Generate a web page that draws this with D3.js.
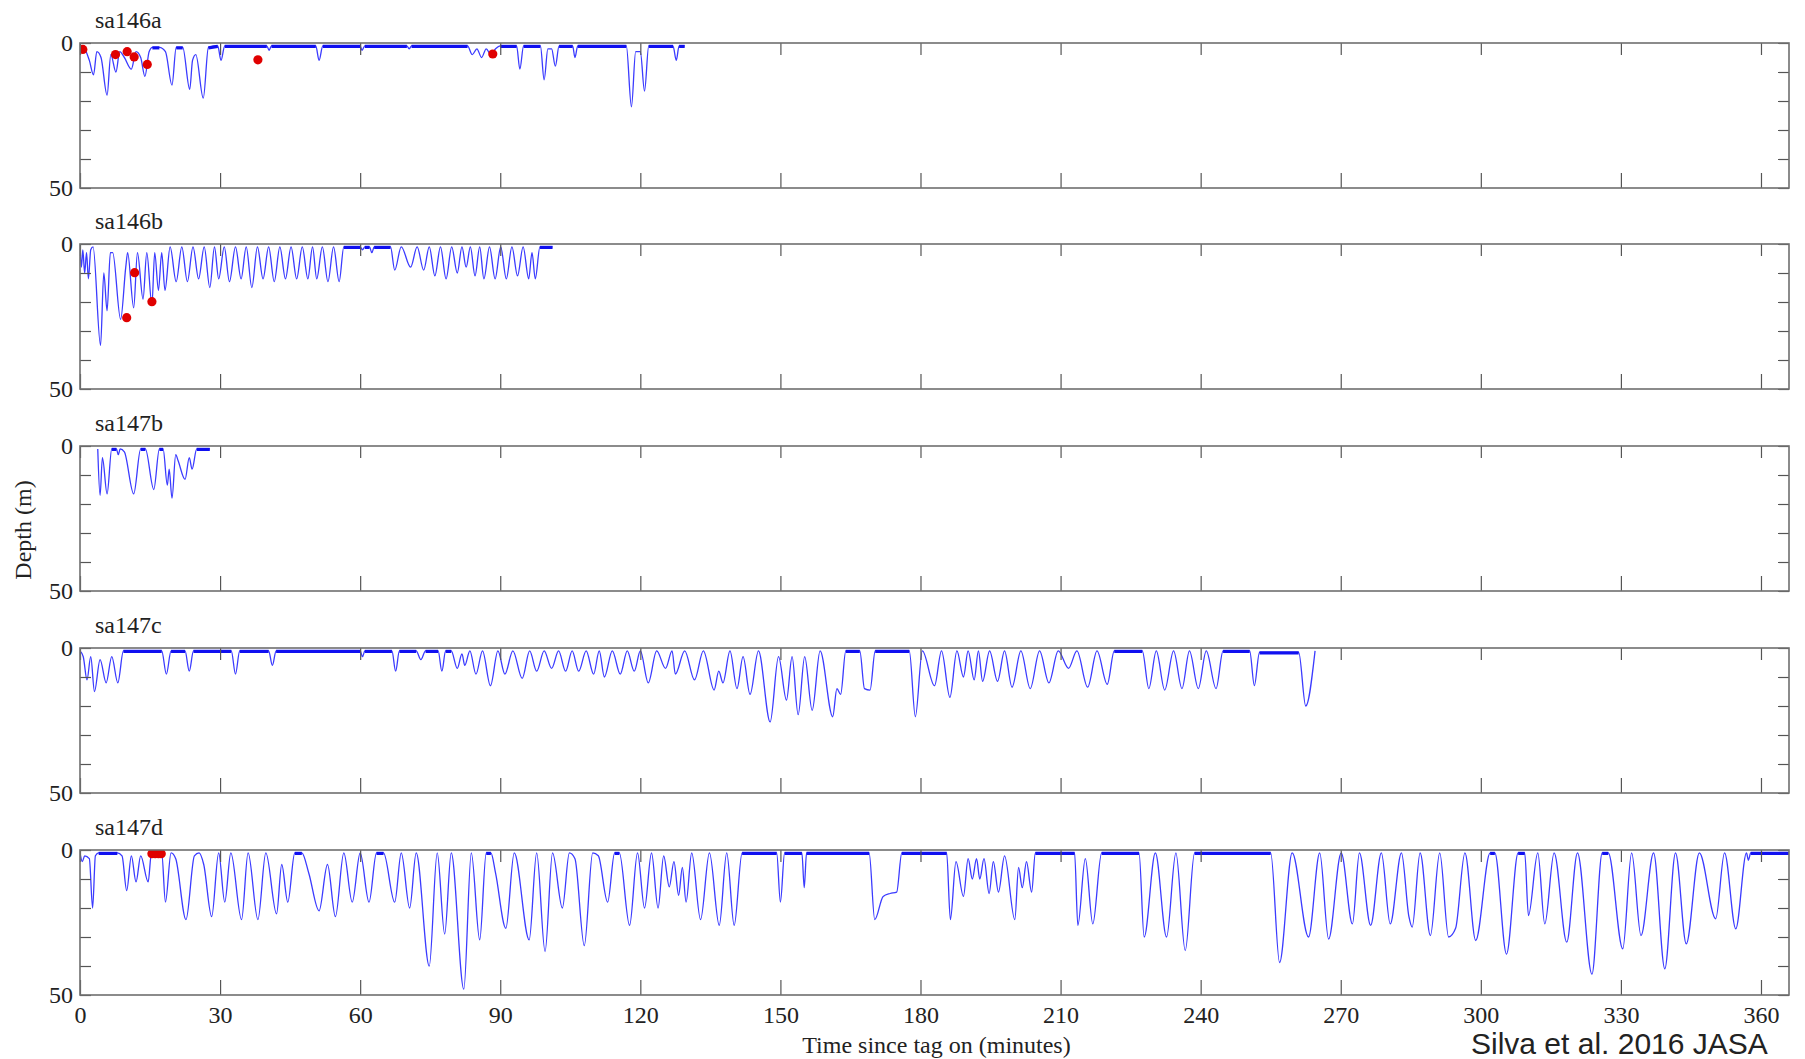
<!DOCTYPE html>
<html>
<head>
<meta charset="utf-8">
<script src="https://cdn.jsdelivr.net/npm/d3@7"></script>
<style>
body{margin:0;background:#fff}
svg{display:block}
text{font-family:"Liberation Serif","Times New Roman",serif;fill:#222}
</style>
</head>
<body>
<svg id="c" width="1805" height="1059"></svg>
<script>
// ---------- DATA ----------
const panelNames = ["sa146a", "sa146b", "sa147b", "sa147c", "sa147d"];
const xTickValues = [0, 30, 60, 90, 120, 150, 180, 210, 240, 270, 300, 330, 360];
const yTickValues = [0, 10, 20, 30, 40, 50];
const yTickLabels = [0, 50];
const xTitle = "Time since tag on (minutes)";
const yTitle = "Depth (m)";
const credit = "Silva et al. 2016 JASA";

// [time (min), depth (m)]
const sa146a = [[0,1],[1,2],[2,6],[2.9,11],[3.6,3],[4.5,5],[5.8,18],[6.6,4],[7.7,10],[8.5,3],[9.5,5],[11,9],[12,3],[13,5],[13.9,11.5],[14.8,3],[15.5,1.5],[17,1.5],[18.3,3],[19.7,14.5],[20.6,1.5],[22,1.5],[23.5,16],[24.1,6],[24.8,4],[26.4,19],[27.5,1.5],[29.5,1],[30.2,6],[31,1],[40,1],[40.5,2.5],[41,1],[50.5,1],[51.2,6],[52,1],[60,1],[60.4,2.5],[61,1],[70,1],[70.5,2],[71,1],[83,1],[84,4],[85,2],[86,5],[87,2],[88,4],[89,2],[90,1],[93.5,1],[94.2,9],[95,1],[98.6,1],[99.4,12.7],[100.2,2],[101,2],[101.8,8],[102.6,1],[105.5,1],[106,5],[106.6,1],[117,1],[118.1,22],[119,3],[120,3],[120.9,16.6],[121.8,1],[127,1],[127.7,6],[128.3,1],[129.5,1]];

const sa146b = [[0,1],[0.3,8],[0.6,2],[1,10],[1.4,3],[1.8,12],[2.3,2],[2.8,1],[4.4,35],[5.1,10],[5.8,23],[6.5,3],[7,3],[8.7,26],[9.8,8],[10.2,3],[11.5,22],[12.3,3],[13.5,19],[14.3,3],[15.4,21],[16,3],[16.8,16],[17.5,3],[18.2,16],[19.3,1],[20.6,13],[21.8,1],[23,13],[24.2,1],[25.4,12],[26.6,1],[27.8,15],[28.8,1],[29.7,12],[30.9,1],[32,13],[33.3,1],[34.5,12],[35.6,1],[36.8,15],[38,1],[39.2,12],[40.4,1],[41.6,13],[42.8,1],[44,12],[45.2,1],[46.4,12],[47.6,1],[48.8,12],[49.8,1],[50.7,12],[51.9,1],[53.1,13],[54.3,1],[55.5,13],[56.5,1],[60,1],[60.5,2],[61,1],[62,1],[62.5,3],[63,1],[66.5,1],[67.4,9],[68.8,1],[70.8,8],[72.2,1],[73.6,9],[74.8,1],[76,11],[77.2,1],[78.4,12],[79.6,1],[80.8,10],[81.8,1],[82.7,8],[83.6,1],[84.6,11],[85.6,1],[86.5,12],[87.7,1],[88.9,12],[90.1,1],[91.3,12],[92.5,1],[93.7,11],[94.9,1],[96.1,12],[96.8,3],[97.5,12],[98.5,1],[101.2,1]];

const sa147b = [[3.8,1],[4.3,17],[4.8,4],[5.8,16.5],[6.8,1],[7.8,1],[8.2,3],[8.6,1],[9.5,2],[11.5,16.5],[13,1],[14,1],[15.8,15],[17,1],[17.8,1],[18.7,13.5],[19.1,8],[19.7,18],[20.5,3],[21,5],[22.5,11.5],[23.4,4],[24,8],[25,1],[27.8,1]];

const sa147c = [[0,1],[0.7,3],[1.5,11],[2.3,3],[3.1,15],[4.3,4],[5.6,12],[6.8,3],[8.1,12],[9.3,1],[17.5,1],[18.5,9],[19.5,1],[22.5,1],[23.4,8],[24.3,1],[32.4,1],[33.3,9],[34.2,1],[40.4,1],[41.2,6],[42,1],[60,1],[60.5,3],[61,1],[66.8,1],[67.6,8],[68.4,1],[72,1],[73,4],[74,1],[76.7,1],[77.5,8],[78.3,1],[79.5,1],[80.8,7],[81.8,2],[82.4,6],[83.5,1],[84.8,9],[86.2,1],[87.9,13],[89.5,1],[91,9],[92.7,1],[94.7,10.5],[96.3,1],[97.8,8],[99.4,1],[101,7],[102.5,1],[104,8],[105.4,1],[106.8,8],[108.4,1],[110,9],[111.2,1],[112.3,10],[114,1],[115.7,9],[117.2,1],[118.7,8],[120,1],[121.7,12],[123.5,1],[125.4,7],[126.8,1],[127.5,9],[129.5,1],[131.6,11],[133.5,1],[135.8,14.5],[136.8,8],[137.7,12],[139.2,1],[140.7,14],[142,3],[143.5,16],[145.3,1],[147.8,25.5],[149.6,3],[151.3,18],[152.5,3],[153.8,23],[155.2,3],[156.8,21.5],[158.5,1],[161.2,23.7],[162.1,14],[162.9,16],[164,1],[167,1],[168,14],[169.2,14.5],[170.3,1],[177.6,1],[178.9,23.7],[180.4,1],[183,13],[184.5,1],[186.3,17],[187.8,1],[189.2,10],[190.2,1],[191.5,11],[192.4,1],[193.3,11.5],[194.8,1],[196.5,11.5],[198,1],[199.6,13.5],[201.5,1],[203.5,14],[205.5,1],[207.5,12],[209.5,1],[211.7,7],[213.5,1],[215.8,13.5],[217.8,1],[220,12.5],[221.5,1],[227.5,1],[228.9,14],[230.5,1],[232.3,14.5],[234.2,1],[236,14],[237.6,1],[239.5,14],[241.2,1],[243.3,14],[244.8,1],[250.5,1],[251.5,13],[252.6,1.5],[261,1.5],[262.5,20],[264.5,1]];

const sa147d = [[0,1],[0.5,4],[1,2],[2,3],[2.7,20],[3.3,2],[4,1],[8,1],[9,2],[10,14],[11,2],[12,11],[13,2],[14.6,11],[15.3,1],[17.5,1],[18.3,18],[19.5,1],[20.5,3],[22.7,24],[24.5,2],[25.5,1],[26.5,5],[28.2,23],[29.7,1],[31,18],[32.3,1],[34.6,24],[36,1],[38.1,24],[39.8,1],[42.1,22],[43.2,5],[44.5,18],[46,1],[47.5,1],[49,8],[51.2,21],[53,5],[54.7,23],[56.5,1],[58.3,18],[60,1],[61.9,18],[63.5,1],[65,1],[67.4,18],[68.8,1],[70.6,20],[72,1],[74.8,40],[76.5,1],[78.1,29],[79.5,1],[82.2,48],[83.8,1],[85.6,31],[87,1],[88,1],[89,8],[91.2,27],[93,1],[96.2,31],[97.8,1],[99.6,35],[101.2,1],[103.3,20],[104.8,1],[106,3],[108,33],[109.8,1],[111,2],[113,18],[114.5,1],[115.5,1],[117.7,26],[119.4,1],[120.9,20],[122.4,1],[123.8,20],[125,2],[126.2,12.7],[127.2,4],[128.2,15.6],[129,6],[129.8,18],[131,1],[132.9,24],[134.8,1],[136.9,26],[138.5,1],[140.1,26],[141.8,1],[149.2,1],[150,18],[150.9,1],[154.6,1],[155.1,13],[155.6,1],[169,1],[170.2,24],[172,16],[173.5,15],[174.9,14.5],[176,1],[185.6,1],[186.4,24],[187.6,4],[189.2,16],[190.2,3],[191.1,10],[192,3],[192.7,10],[193.6,3],[194.7,15],[195.6,4],[196.7,14.5],[198,2],[200.2,24],[201,6],[201.8,13],[202.7,4],[203.8,14.5],[204.6,1],[213,1],[213.7,26],[215.3,3],[216.9,25.5],[218.8,1],[226.8,1],[227.9,30],[230.3,1],[232.7,30],[234.7,1],[236.7,34.7],[238.7,1],[255,1],[256.9,38.8],[259.6,1],[263.1,30],[265.5,1],[267.4,30.7],[270.1,1],[272.5,25.5],[274,1],[276.4,26],[278.7,1],[280.6,25.5],[283,1],[284.6,23],[285.3,26.6],[287,1],[289.2,29.5],[291.2,1],[293.1,30],[294.6,27],[296.6,1],[298.9,31.2],[302,1],[303,1],[305.5,35.9],[308,1],[309.4,1],[310.2,22.6],[312.2,1],[313.7,25.5],[315.7,1],[318.4,31.8],[320.7,1],[323.8,42.8],[326,1],[327.3,1],[330.4,34.1],[332.3,1],[334.3,29.5],[337,1],[339.4,41],[341.7,1],[344,32.4],[346.8,1],[350.3,23.7],[352.2,1],[354.6,27.2],[356.9,1],[357.3,3.5],[357.8,1],[366,1]];

const sa146aMarks = [[0.6,2.2],[7.6,4],[10.1,3],[11.6,4.8],[14.4,7.4],[38.1,5.8],[88.4,3.8]];
const sa146bMarks = [[10,25.4],[11.7,9.9],[15.4,19.9]];
const sa147bMarks = [];
const sa147cMarks = [];
const sa147dMarks = [[15.4,1.3],[16.1,1.3],[16.8,1.3],[17.4,1.3]];

// ---------- DRAW ----------
const series = [sa146a, sa146b, sa147b, sa147c, sa147d];
const marks = [sa146aMarks, sa146bMarks, sa147bMarks, sa147cMarks, sa147dMarks];

const svg = d3.select("#c");
const left = 80, right = 1789;
const panelTops = [43, 244, 446, 648, 850];
const panelH = 145;
const x = d3.scaleLinear().domain([0, 366]).range([left, right]);

const lineColor = "#3b3bff";
const surfColor = "#1010f0";
const frameColor = "#6f6f6f";

panelNames.forEach((name, i) => {
  const top = panelTops[i];
  const y = d3.scaleLinear().domain([0, 50]).range([top, top + panelH]);
  const g = svg.append("g");

  g.append("clipPath").attr("id", "clip" + i)
    .append("rect").attr("x", left).attr("y", top).attr("width", right - left).attr("height", panelH);

  const plot = g.append("g").attr("clip-path", `url(#clip${i})`);

  plot.append("path")
    .datum(series[i])
    .attr("d", d3.line().x(d => x(d[0])).y(d => y(d[1])).curve(d3.curveMonotoneX))
    .attr("fill", "none")
    .attr("stroke", lineColor)
    .attr("stroke-width", 1.3)
    .attr("stroke-linejoin", "round");

  // dense surface band
  const segs = d3.pairs(series[i]).filter(([a, b]) => a[1] <= 1.5 && b[1] <= 1.5);
  plot.selectAll("line.surf").data(segs).join("line")
    .attr("class", "surf")
    .attr("x1", d => x(d[0][0])).attr("x2", d => x(d[1][0]))
    .attr("y1", d => y(d[0][1]) + 0.5).attr("y2", d => y(d[1][1]) + 0.5)
    .attr("stroke", surfColor)
    .attr("stroke-width", 3.2);

  plot.selectAll("circle").data(marks[i]).join("circle")
    .attr("cx", d => x(d[0])).attr("cy", d => y(d[1]))
    .attr("r", 4.6)
    .attr("fill", "#e00000");

  // axes
  const isLast = i === panelNames.length - 1;
  const xb = g.append("g").attr("transform", `translate(0,${top + panelH})`)
    .call(d3.axisBottom(x).tickValues(xTickValues).tickSize(-15).tickPadding(11)
      .tickFormat(isLast ? d3.format("d") : () => ""));
  const xt = g.append("g").attr("transform", `translate(0,${top})`)
    .call(d3.axisTop(x).tickValues(xTickValues).tickSize(-12).tickFormat(() => ""));
  const yl = g.append("g").attr("transform", `translate(${left},0)`)
    .call(d3.axisLeft(y).tickValues(yTickValues).tickSize(-11).tickPadding(7)
      .tickFormat(d => yTickLabels.includes(d) ? d : ""));
  const yr = g.append("g").attr("transform", `translate(${right},0)`)
    .call(d3.axisRight(y).tickValues(yTickValues).tickSize(-11).tickFormat(() => ""));

  [xb, xt, yl, yr].forEach(a => {
    a.select(".domain").remove();
    a.selectAll(".tick line").attr("stroke", "#555").attr("stroke-width", 1.2);
    a.selectAll(".tick text").attr("font-size", 24).attr("fill", "#222")
      .style("font-family", '"Liberation Serif", serif');
  });

  g.append("rect")
    .attr("x", left).attr("y", top).attr("width", right - left).attr("height", panelH)
    .attr("fill", "none").attr("stroke", frameColor).attr("stroke-width", 1.6);

  g.append("text")
    .attr("x", 95).attr("y", top - 15)
    .attr("font-size", 24)
    .text(name);
});

svg.append("text")
  .attr("x", (x(0) + x(366)) / 2 + 2).attr("y", 1053)
  .attr("text-anchor", "middle")
  .attr("font-size", 24)
  .text(xTitle);

svg.append("text")
  .attr("transform", "translate(31,530) rotate(-90)")
  .attr("text-anchor", "middle")
  .attr("font-size", 24)
  .text(yTitle);

svg.append("text")
  .attr("x", 1471).attr("y", 1054)
  .attr("font-size", 30)
  .style("font-family", '"Liberation Sans", Arial, sans-serif')
  .attr("fill", "#000")
  .text(credit);
</script>
</body>
</html>
